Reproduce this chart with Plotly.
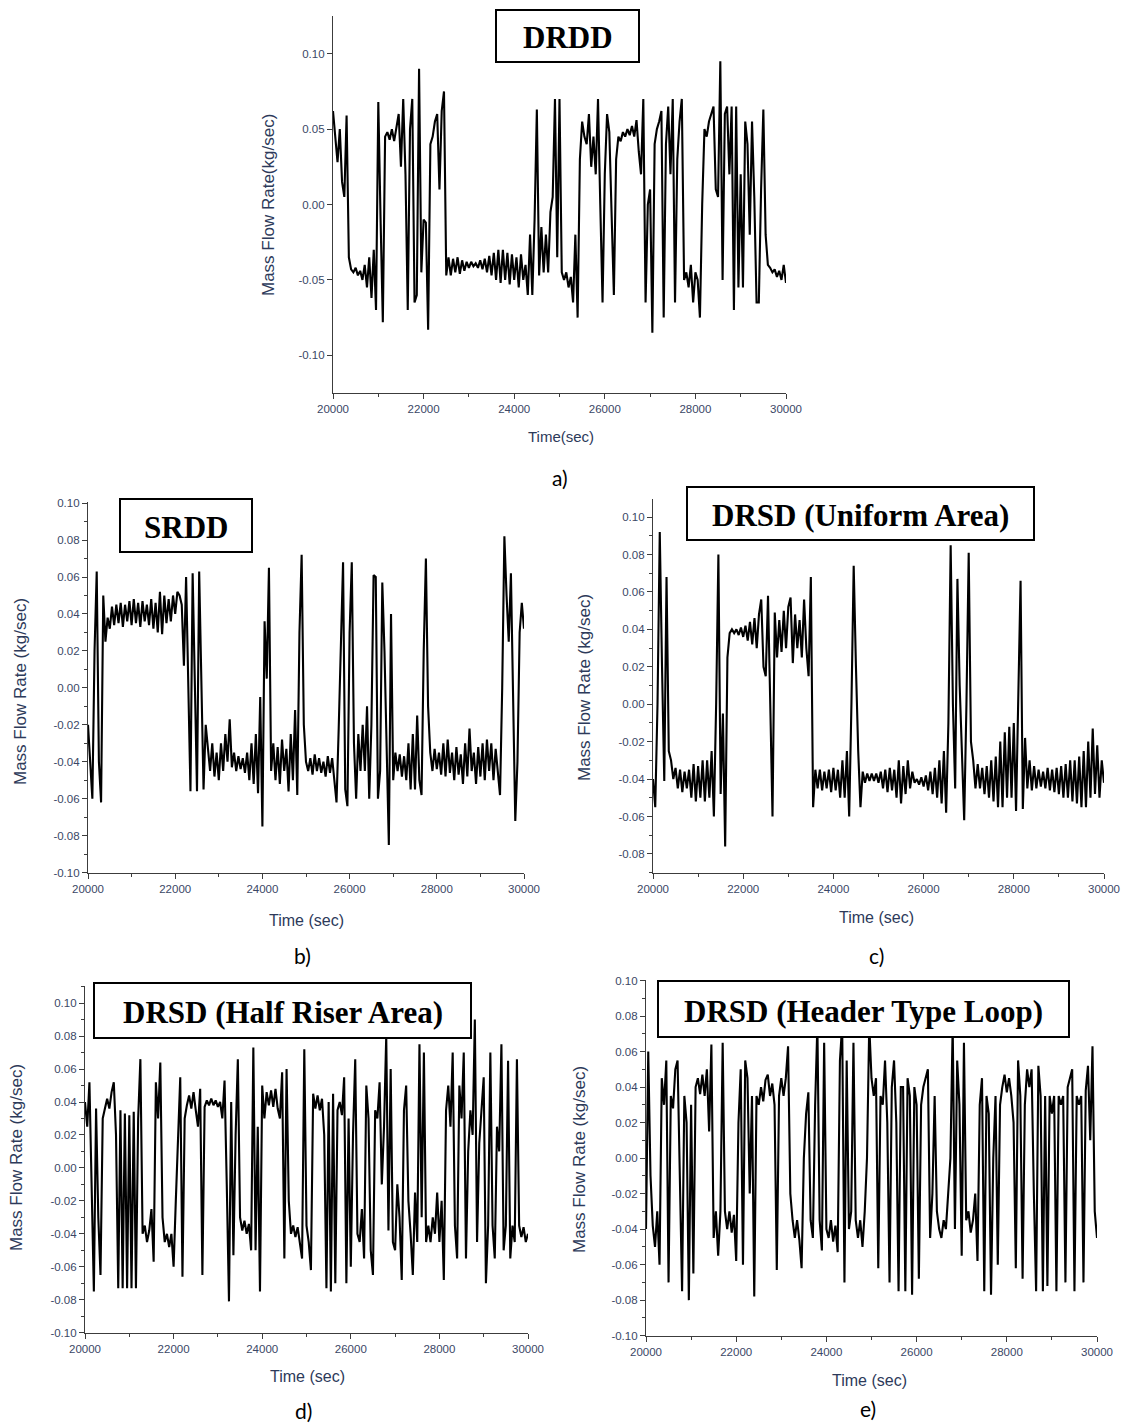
import plotly.graph_objects as go

W, H = 1140, 1426

TIME = list(range(20000, 30001, 50))

FLOW_DRDD = [
    0.062, 0.045, 0.028, 0.05, 0.015, 0.005, 0.059, -0.035, -0.043, -0.045, -0.042, -0.047, -0.044, -0.05, -0.04, -0.055, -0.035, -0.062, -0.03, -0.07,
    0.068, -0.01, -0.078, 0.045, 0.048, 0.043, 0.05, 0.042, 0.052, 0.06, 0.025, 0.07, 0.02, -0.07, 0.05, 0.07, -0.065, -0.06, 0.09, -0.045,
    -0.01, -0.012, -0.083, 0.04, 0.045, 0.055, 0.06, 0.01, 0.062, 0.075, -0.047, -0.035, -0.047, -0.036, -0.045, -0.035, -0.046, -0.037, -0.044, -0.038,
    -0.042, -0.038, -0.041, -0.039, -0.042, -0.037, -0.043, -0.036, -0.045, -0.034, -0.047, -0.032, -0.05, -0.03, -0.052, -0.03, -0.05, -0.032, -0.053, -0.033,
    -0.05, -0.035, -0.055, -0.033, -0.05, -0.04, -0.06, -0.02, -0.06, -0.01, 0.063, -0.047, -0.015, -0.045, -0.02, -0.045, -0.005, 0.005, 0.07, -0.035,
    0.07, -0.045, -0.05, -0.045, -0.055, -0.048, -0.065, -0.02, -0.075, 0.03, 0.055, 0.045, 0.04, 0.06, 0.025, 0.045, 0.02, 0.07, 0.0, -0.065,
    0.02, 0.06, 0.048, 0.0, -0.06, 0.03, 0.045, 0.042, 0.048, 0.045, 0.05, 0.046, 0.052, 0.045, 0.056, 0.035, 0.02, 0.07, -0.065, 0.0,
    0.01, -0.085, 0.04, 0.05, 0.055, 0.062, -0.075, 0.04, 0.065, 0.02, 0.07, -0.065, 0.03, 0.055, 0.07, -0.05, -0.045, -0.055, -0.04, -0.065,
    -0.045, -0.05, -0.075, 0.0, 0.05, 0.045, 0.055, 0.06, 0.065, 0.01, 0.005, 0.095, -0.05, 0.06, 0.065, 0.02, 0.065, -0.07, 0.065, -0.055,
    0.02, -0.055, 0.055, 0.04, -0.02, 0.055, 0.005, -0.065, -0.065, 0.01, 0.063, -0.02, -0.04, -0.042, -0.045, -0.043, -0.048, -0.044, -0.05, -0.04,
    -0.052,
]

FLOW_SRDD = [
    -0.02, -0.04, -0.06, 0.02, 0.063, -0.04, -0.062, 0.05, 0.025, 0.038, 0.032, 0.044, 0.034, 0.045, 0.035, 0.046, 0.033, 0.045, 0.036, 0.047,
    0.034, 0.048, 0.035, 0.046, 0.033, 0.047, 0.036, 0.045, 0.034, 0.048, 0.032, 0.046, 0.03, 0.052, 0.029, 0.05, 0.035, 0.048, 0.036, 0.05,
    0.04, 0.052, 0.05, 0.045, 0.012, 0.06, 0.01, -0.056, 0.062, 0.0, -0.056, 0.063, 0.0, -0.055, -0.02, -0.035, -0.045, -0.03, -0.048, -0.035,
    -0.05, -0.03, -0.045, -0.025, -0.04, -0.017, -0.043, -0.035, -0.045, -0.037, -0.044, -0.038, -0.046, -0.035, -0.05, -0.03, -0.052, -0.025, -0.057, -0.005,
    -0.075, 0.036, 0.005, 0.065, -0.045, -0.03, -0.05, -0.032, -0.052, -0.028, -0.045, -0.033, -0.056, -0.025, -0.05, -0.012, -0.058, 0.03, 0.072, -0.02,
    -0.04, -0.045, -0.038, -0.047, -0.036, -0.045, -0.038, -0.046, -0.04, -0.048, -0.037, -0.046, -0.038, -0.05, -0.062, -0.022, 0.02, 0.068, -0.055, -0.064,
    0.03, 0.068, -0.03, -0.06, -0.025, -0.045, -0.02, -0.045, -0.01, -0.06, -0.02, 0.061, 0.06, -0.06, -0.045, 0.057, 0.02, -0.03, -0.085, 0.04,
    -0.05, -0.035, -0.045, -0.036, -0.048, -0.037, -0.05, -0.03, -0.055, -0.025, -0.055, -0.015, -0.05, -0.058, 0.02, 0.07, -0.01, -0.035, -0.045, -0.033,
    -0.044, -0.035, -0.047, -0.03, -0.048, -0.028, -0.046, -0.035, -0.05, -0.032, -0.047, -0.036, -0.052, -0.03, -0.048, -0.022, -0.045, -0.035, -0.052, -0.032,
    -0.048, -0.03, -0.05, -0.028, -0.045, -0.03, -0.05, -0.033, -0.047, -0.058, 0.0, 0.082, 0.05, 0.025, 0.062, -0.01, -0.072, -0.04, 0.03, 0.046,
    0.032,
]

FLOW_DRSD_UNIFORM = [
    -0.04, -0.055, 0.0, 0.092, 0.02, -0.041, 0.068, -0.025, -0.03, -0.04, -0.034, -0.045, -0.035, -0.047, -0.036, -0.045, -0.035, -0.05, -0.032, -0.052,
    -0.033, -0.05, -0.03, -0.052, -0.03, -0.05, -0.025, -0.06, 0.0, 0.08, -0.048, -0.005, -0.076, 0.025, 0.038, 0.04, 0.038, 0.04, 0.037, 0.041,
    0.036, 0.042, 0.034, 0.044, 0.032, 0.046, 0.03, 0.048, 0.056, 0.02, 0.015, 0.058, 0.0, -0.06, 0.049, 0.025, 0.045, 0.028, 0.05, 0.03,
    0.052, 0.057, 0.022, 0.048, 0.03, 0.045, 0.025, 0.056, 0.03, 0.015, 0.068, -0.055, -0.035, -0.045, -0.035, -0.046, -0.036, -0.045, -0.035, -0.047,
    -0.034, -0.046, -0.035, -0.05, -0.03, -0.05, -0.025, -0.06, 0.0, 0.074, 0.02, -0.025, -0.055, -0.036, -0.042, -0.037, -0.041, -0.037, -0.041, -0.037,
    -0.042, -0.036, -0.045, -0.035, -0.047, -0.034, -0.046, -0.035, -0.05, -0.03, -0.053, -0.033, -0.048, -0.03, -0.045, -0.036, -0.042, -0.04, -0.043, -0.039,
    -0.044, -0.038, -0.046, -0.036, -0.048, -0.034, -0.05, -0.03, -0.053, -0.025, -0.058, -0.01, 0.085, 0.0, -0.045, 0.067, 0.01, -0.03, -0.062, 0.0,
    0.081, -0.02, -0.03, -0.045, -0.032, -0.045, -0.034, -0.048, -0.033, -0.05, -0.03, -0.052, -0.028, -0.055, -0.02, -0.055, -0.015, -0.05, -0.012, -0.05,
    -0.01, -0.057, 0.0, 0.066, -0.056, -0.018, -0.045, -0.03, -0.046, -0.033, -0.045, -0.035, -0.044, -0.036, -0.045, -0.034, -0.046, -0.035, -0.047, -0.034,
    -0.048, -0.033, -0.05, -0.032, -0.05, -0.03, -0.052, -0.03, -0.053, -0.028, -0.055, -0.025, -0.055, -0.02, -0.05, -0.013, -0.048, -0.022, -0.05, -0.03,
    -0.042,
]

FLOW_DRSD_HALF = [
    0.04, 0.025, 0.052, -0.02, -0.075, 0.036, -0.03, -0.065, 0.03, 0.036, 0.042, 0.036, 0.046, 0.052, 0.02, -0.073, 0.035, -0.073, 0.033, -0.073,
    0.032, -0.073, 0.034, -0.073, 0.03, 0.066, -0.04, -0.035, -0.045, -0.038, -0.025, -0.057, 0.052, 0.03, 0.064, -0.03, -0.045, -0.04, -0.048, -0.04,
    -0.06, -0.02, 0.02, 0.055, -0.066, 0.03, 0.038, 0.044, 0.036, 0.046, 0.035, 0.025, 0.048, -0.065, 0.037, 0.041, 0.038, 0.042, 0.038, 0.041,
    0.037, 0.04, 0.03, 0.053, -0.01, -0.081, 0.04, -0.053, 0.02, 0.066, -0.03, -0.038, -0.032, -0.04, -0.034, -0.05, 0.073, -0.05, 0.025, -0.075,
    0.05, 0.03, 0.046, 0.038, 0.047, 0.037, 0.048, 0.036, 0.03, 0.058, -0.055, 0.06, -0.02, -0.04, -0.035, -0.042, -0.036, -0.045, -0.055, 0.072,
    -0.035, -0.045, -0.062, 0.045, 0.036, 0.044, 0.035, 0.042, 0.02, -0.073, 0.04, -0.075, 0.045, -0.07, 0.035, 0.04, 0.032, 0.055, -0.07, 0.03,
    -0.06, 0.02, 0.066, -0.04, -0.045, -0.025, -0.055, 0.05, 0.03, -0.05, -0.065, 0.035, 0.03, 0.052, -0.01, 0.025, 0.08, -0.038, 0.06, -0.045,
    -0.05, -0.01, -0.03, -0.068, 0.035, 0.05, -0.02, -0.04, -0.065, -0.015, -0.045, 0.075, -0.03, 0.07, -0.045, -0.035, -0.045, -0.03, -0.04, -0.015,
    -0.045, -0.02, -0.068, 0.035, 0.05, 0.025, 0.07, -0.035, -0.055, 0.05, 0.03, 0.07, -0.055, 0.01, 0.035, 0.02, 0.09, -0.045, 0.015, 0.035,
    0.055, -0.07, -0.035, 0.07, -0.035, -0.055, 0.025, 0.01, 0.075, -0.05, -0.035, 0.065, -0.055, -0.035, -0.045, 0.066, -0.035, -0.042, -0.036, -0.045,
    -0.04,
]

FLOW_DRSD_HEADER = [
    -0.04, 0.06, -0.01, -0.038, -0.05, -0.03, -0.06, 0.045, 0.03, 0.055, -0.07, 0.035, 0.028, 0.05, 0.055, -0.02, -0.075, 0.035, 0.02, -0.08,
    0.03, -0.065, 0.04, 0.045, 0.036, 0.047, 0.035, 0.05, 0.015, 0.064, -0.045, -0.03, -0.055, -0.03, 0.065, -0.03, -0.04, -0.03, -0.042, -0.032,
    -0.058, 0.02, 0.05, -0.06, 0.055, 0.045, -0.02, 0.035, -0.078, 0.035, 0.03, 0.04, 0.032, 0.044, 0.047, 0.035, 0.042, 0.03, -0.063, 0.035,
    0.045, 0.035, 0.045, 0.063, -0.02, -0.035, -0.045, -0.035, -0.046, -0.062, 0.0, 0.025, 0.037, -0.035, -0.045, 0.03, 0.075, -0.035, -0.052, 0.065,
    -0.04, -0.045, -0.035, -0.047, -0.038, -0.053, 0.055, 0.075, -0.07, 0.055, -0.04, -0.03, 0.065, -0.035, -0.045, -0.035, -0.05, -0.03, 0.0, 0.075,
    0.045, 0.035, 0.045, -0.062, 0.035, 0.03, 0.055, 0.02, -0.07, 0.04, 0.055, 0.02, -0.075, 0.04, 0.04, -0.075, 0.045, 0.035, -0.077, 0.04,
    0.03, -0.068, 0.03, 0.04, 0.045, 0.05, -0.045, -0.02, 0.035, -0.03, -0.04, -0.045, -0.035, -0.04, -0.02, 0.0, 0.075, -0.04, 0.055, 0.03,
    -0.055, 0.065, -0.035, -0.03, -0.042, -0.035, -0.02, -0.058, 0.03, 0.045, -0.075, 0.035, 0.025, -0.077, 0.0, 0.035, -0.06, 0.03, 0.04, 0.047,
    0.037, 0.045, 0.035, 0.02, -0.062, 0.055, 0.035, -0.068, 0.03, 0.05, 0.04, 0.05, -0.02, -0.075, 0.052, 0.035, -0.075, 0.035, -0.072, 0.035,
    0.025, 0.035, -0.075, 0.035, 0.03, 0.035, -0.07, 0.04, 0.045, 0.05, -0.075, 0.035, 0.03, 0.035, -0.07, 0.038, 0.052, 0.01, 0.063, -0.03,
    -0.045,
]

X_TICKS = [20000, 22000, 24000, 26000, 28000, 30000]
X_TICK_LABELS = ["20000", "22000", "24000", "26000", "28000", "30000"]
X_MINOR_TICKS = [21000, 23000, 25000, 27000, 29000]
Y_TICKS_A = [-0.10, -0.05, 0.00, 0.05, 0.10]
Y_TICK_LABELS_A = ["-0.10", "-0.05", "0.00", "0.05", "0.10"]
Y_TICKS_FULL = [-0.10, -0.08, -0.06, -0.04, -0.02, 0.00, 0.02, 0.04, 0.06, 0.08, 0.10]
Y_TICK_LABELS_FULL = ["-0.10", "-0.08", "-0.06", "-0.04", "-0.02", "0.00", "0.02", "0.04", "0.06", "0.08", "0.10"]
Y_TICKS_C = [-0.08, -0.06, -0.04, -0.02, 0.00, 0.02, 0.04, 0.06, 0.08, 0.10]
Y_TICK_LABELS_C = ["-0.08", "-0.06", "-0.04", "-0.02", "0.00", "0.02", "0.04", "0.06", "0.08", "0.10"]

# ---------------- layout helpers ----------------
def fx(px):
    return px / W

def fy(py):
    return 1 - py / H

PANELS = [
    dict(series=FLOW_DRDD, ax=(333, 786), ay=(16, 393), yr=(-0.125, 0.125),
         yt=Y_TICKS_A, ytl=Y_TICK_LABELS_A, yminor=None,
         box=(496, 10, 639, 62), box_text="DRDD",
         ytitle="Mass Flow Rate(kg/sec)", ytitle_pos=(268, 205),
         xtitle="Time(sec)", xtitle_pos=(561, 437), xtitle_size=15,
         tag="a)", tag_pos=(560, 478)),
    dict(series=FLOW_SRDD, ax=(88, 524), ay=(502, 873), yr=(-0.1002, 0.1006),
         yt=Y_TICKS_FULL, ytl=Y_TICK_LABELS_FULL, yminor=0.01,
         box=(120, 499, 252, 552), box_text="SRDD",
         ytitle="Mass Flow Rate (kg/sec)", ytitle_pos=(20, 692),
         xtitle="Time (sec)", xtitle_pos=(306, 920), xtitle_size=16,
         tag="b)", tag_pos=(302, 955)),
    dict(series=FLOW_DRSD_UNIFORM, ax=(653, 1104), ay=(499, 873), yr=(-0.0902, 0.1097),
         yt=Y_TICKS_C, ytl=Y_TICK_LABELS_C, yminor=0.01,
         box=(687, 487, 1034, 540), box_text="DRSD (Uniform Area)",
         ytitle="Mass Flow Rate (kg/sec)", ytitle_pos=(584, 688),
         xtitle="Time (sec)", xtitle_pos=(877, 917), xtitle_size=16,
         tag="c)", tag_pos=(877, 955)),
    dict(series=FLOW_DRSD_HALF, ax=(85, 528), ay=(986, 1333), yr=(-0.1002, 0.1104),
         yt=Y_TICKS_FULL, ytl=Y_TICK_LABELS_FULL, yminor=0.01,
         box=(94, 983, 471, 1038), box_text="DRSD (Half Riser Area)",
         ytitle="Mass Flow Rate (kg/sec)", ytitle_pos=(16, 1158),
         xtitle="Time (sec)", xtitle_pos=(307, 1376), xtitle_size=16,
         tag="d)", tag_pos=(303, 1410)),
    dict(series=FLOW_DRSD_HEADER, ax=(646, 1097), ay=(980, 1336), yr=(-0.1002, 0.1003),
         yt=Y_TICKS_FULL, ytl=Y_TICK_LABELS_FULL, yminor=0.01,
         box=(658, 981, 1069, 1037), box_text="DRSD (Header Type Loop)",
         ytitle="Mass Flow Rate (kg/sec)", ytitle_pos=(579, 1160),
         xtitle="Time (sec)", xtitle_pos=(869, 1380), xtitle_size=16,
         tag="e)", tag_pos=(868, 1408)),
]

AXIS_COLOR = "#3c3c3c"
TICK_FONT = dict(family="Liberation Sans, Arial, sans-serif", size=11.5, color="#3a4766")
TITLE_COLOR = "#2d3a5a"
SANS = "Liberation Sans, Arial, sans-serif"

fig = go.Figure()
layout = dict(width=W, height=H, margin=dict(l=0, r=0, t=0, b=0),
              paper_bgcolor="white", plot_bgcolor="white", showlegend=False)
shapes, annotations = [], []

for i, p in enumerate(PANELS, start=1):
    sx = "" if i == 1 else str(i)
    fig.add_trace(go.Scatter(x=TIME, y=p["series"], mode="lines",
                             line=dict(color="black", width=2.1),
                             xaxis="x" + sx, yaxis="y" + sx, hoverinfo="skip"))
    layout["xaxis" + sx] = dict(
        domain=[fx(p["ax"][0]), fx(p["ax"][1])], anchor="y" + sx,
        range=[20000, 30000], tickvals=X_TICKS, ticktext=X_TICK_LABELS,
        showline=True, linecolor=AXIS_COLOR, linewidth=1.2,
        ticks="outside", ticklen=5, tickwidth=1.2, tickcolor=AXIS_COLOR,
        showgrid=False, zeroline=False, tickfont=TICK_FONT, automargin=False,
        minor=dict(ticks="outside", ticklen=3, tickcolor=AXIS_COLOR,
                   tickvals=X_MINOR_TICKS, showgrid=False),
    )
    ydict = dict(
        domain=[fy(p["ay"][1]), fy(p["ay"][0])], anchor="x" + sx,
        range=list(p["yr"]), tickvals=p["yt"], ticktext=p["ytl"],
        showline=True, linecolor=AXIS_COLOR, linewidth=1.2,
        ticks="outside", ticklen=5, tickwidth=1.2, tickcolor=AXIS_COLOR,
        showgrid=False, zeroline=False, tickfont=TICK_FONT, automargin=False,
    )
    if p["yminor"]:
        ydict["minor"] = dict(ticks="outside", ticklen=3, tickcolor=AXIS_COLOR,
                              dtick=p["yminor"], showgrid=False)
    layout["yaxis" + sx] = ydict

    x0, y0, x1, y1 = p["box"]
    shapes.append(dict(type="rect", xref="paper", yref="paper",
                       x0=fx(x0), x1=fx(x1), y0=fy(y1), y1=fy(y0),
                       line=dict(color="black", width=2), fillcolor="white", layer="above"))
    annotations.append(dict(xref="paper", yref="paper", x=fx((x0 + x1) / 2), y=fy((y0 + y1) / 2 + 2),
                            text="<b>%s</b>" % p["box_text"], showarrow=False,
                            xanchor="center", yanchor="middle",
                            font=dict(family="Liberation Serif, Times New Roman, serif", size=31, color="black")))
    annotations.append(dict(xref="paper", yref="paper", x=fx(p["ytitle_pos"][0]), y=fy(p["ytitle_pos"][1]),
                            text=p["ytitle"], textangle=-90, showarrow=False,
                            xanchor="center", yanchor="middle",
                            font=dict(family=SANS, size=17, color=TITLE_COLOR)))
    annotations.append(dict(xref="paper", yref="paper", x=fx(p["xtitle_pos"][0]), y=fy(p["xtitle_pos"][1]),
                            text=p["xtitle"], showarrow=False,
                            xanchor="center", yanchor="middle",
                            font=dict(family=SANS, size=p["xtitle_size"], color=TITLE_COLOR)))
    annotations.append(dict(xref="paper", yref="paper", x=fx(p["tag_pos"][0]), y=fy(p["tag_pos"][1]),
                            text=p["tag"], showarrow=False,
                            xanchor="center", yanchor="middle",
                            font=dict(family="Lato, Open Sans, sans-serif", size=21, color="black")))

layout["shapes"] = shapes
layout["annotations"] = annotations
fig.update_layout(**layout)
fig.write_html("out.html", config={"displayModeBar": False},
               post_script="document.body.style.margin='0px';document.body.style.padding='0px';")
